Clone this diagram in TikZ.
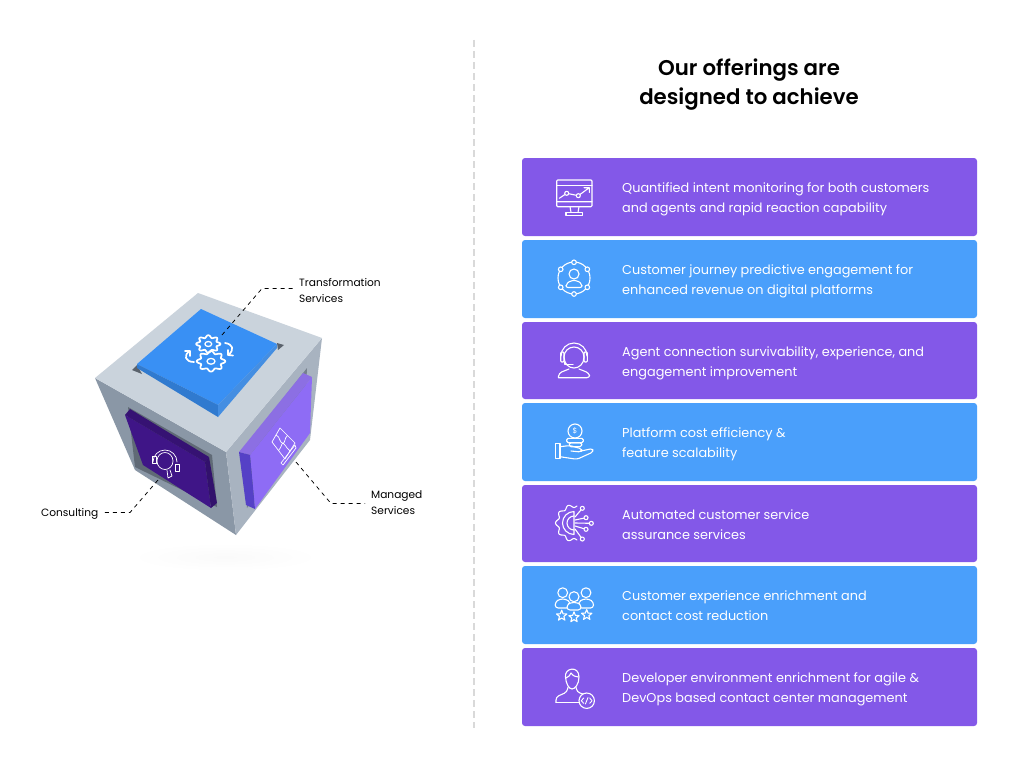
\documentclass[tikz,border=0pt]{standalone}
\usepackage{fontspec}
\setmainfont{Poppins}
\newfontfamily\titlefont{Poppins SemiBold}
\definecolor{cardpurple}{HTML}{8358E8}
\definecolor{cardblue}{HTML}{4A9FFB}
\definecolor{platedark}{HTML}{3F1587}
\definecolor{plateblue}{HTML}{3990F4}
\definecolor{plateviolet}{HTML}{8E6CF5}
\tikzset{
    card/.style={minimum width=455pt,inner sep=0pt,rounded corners=3pt},
    purplecard/.style={card,fill=cardpurple},
    bluecard/.style={card,fill=cardblue},
    cardtext/.style={anchor=west,align=left,text=white,inner sep=0pt,font=\fontsize{12.85}{20}\selectfont},
    sidelabel/.style={anchor=west,align=left,text=black,inner sep=0pt,font=\fontsize{10.6}{16}\selectfont},
    leader/.style={draw=black,line width=.75pt,dash pattern=on 4pt off 4pt},
    iconline/.style={draw=white,line width=1.1pt,line join=round,line cap=round},
    monitoricon/.pic={
        \draw[iconline,rounded corners=1pt] (-17.3,-17) rectangle (18,9.7);
        \draw[iconline] (-17.3,4.7) -- (18,4.7) (-3,15.3) -- (-4,9.7) (4,15.3) -- (5,9.7);
        \draw[iconline] (-17.3,-11.3) -- (18,-11.3);
        \draw[iconline] (-8,15.3) rectangle (8.7,18.3);
        \draw[iconline] (-14.7,1.3) -- (-7.3,-3.7) -- (4.3,-1.3) -- (15.3,-9.3) (10,-9.3) -- (15.3,-9.3) -- (15.3,-4.5);
        \draw[iconline,fill=cardpurple] (-7.3,-3.7) circle (2);
        \draw[iconline,fill=cardpurple] (4.3,-1.3) circle (2);
    },
    networkicon/.pic={
        \draw[iconline] (0,0) circle (16);
        \foreach \px/\py in {0/-15.7,-13.3/-8.7,13.3/-8.7,-13.3/9.3,13.3/9.3,0/16}
            \draw[iconline,fill=cardblue] (\px,\py) circle (2.3);
        \draw[iconline] (0,-4) circle (5);
        \draw[iconline,rounded corners=2pt] (-8,9.5) -- (-8,6) -- (-3,2.5) -- (3,2.5) -- (8,6) -- (8,9.5) -- cycle;
    },
    headseticon/.pic={
        \draw[iconline] (-13,-4) arc (180:360:13);
        \draw[iconline] (-10,-3) arc (180:360:10);
        \draw[iconline] (-10,-3) .. controls (-10,4) and (-5,8) .. (0,8) .. controls (5,8) and (10,4) .. (10,-3);
        \draw[iconline,rounded corners=1pt] (-13.3,-8) rectangle (-10,2);
        \draw[iconline,rounded corners=1pt] (10,-8) rectangle (13.3,2);
        \draw[iconline] (-9,2) -- (-9,4.3) -- (-1,4.3);
        \draw[iconline,rounded corners=3pt] (-15.7,17.7) -- (-15,13) -- (-5,9) (5,9) -- (15,13) -- (16,17.7) -- (-15.7,17.7);
    },
    handicon/.pic={
        \draw[iconline] (1,-10) circle (7);
        \node[text=white,inner sep=0pt,font=\fontsize{7.5}{7.5}\selectfont] (dollar) at (1,-10) {\$};
        \draw[iconline,rounded corners=1.5pt] (-7.3,-2.7) rectangle (9.3,1.7);
        \draw[iconline,rounded corners=1.5pt] (-4.7,1.7) rectangle (7.7,5.7);
        \draw[iconline] (-18.3,2.3) rectangle (-14,17.3);
        \draw[iconline,rounded corners=2.5pt] (-14,5.7) -- (-4,4.5) -- (8,8) -- (7,11) -- (-3,10);
        \draw[iconline,rounded corners=2.5pt] (7,10) -- (18.7,7.5) -- (19,11) -- (3,18.3) -- (-14,15.7);
    },
    gearhandicon/.pic={
        \draw[iconline] plot[domain=80:280,samples=90] ({(17+1.5*cos(10*\x))*cos(\x)},{(17+1.5*cos(10*\x))*sin(\x)});
        \draw[iconline] (0,-11.5) -- (0,11.5) (0,-11.5) arc (270:90:11.5);
        \draw[iconline] (0,-7) arc (270:90:7);
        \foreach \px/\py/\sx/\sy in {8.3/-14.7/1/-6,12/-5.3/1/-3,17.3/.3/1/0,12/6.3/1/3,8.3/16/1/6}{
            \draw[iconline] (\sx,\sy) -- (\px,\py);
            \draw[iconline,fill=cardpurple] (\px,\py) circle (2);
        }
    },
    teamicon/.pic={
        \foreach \hx in {-11.3,12}{
            \draw[iconline] (\hx,-11.3) circle (4.9);
            \draw[iconline,rounded corners=3pt] (\hx-7.5,4) -- (\hx-7.5,-2) -- (\hx-3,-5) -- (\hx+3,-5) -- (\hx+7.5,-2) -- (\hx+7.5,4) -- cycle;
        }
        \draw[iconline,fill=cardblue] (0,-7.3) circle (5);
        \draw[iconline,fill=cardblue,rounded corners=3pt] (-7,6) -- (-7,.5) -- (-3,-1.5) -- (3,-1.5) -- (7,.5) -- (7,6) -- cycle;
        \foreach \sx/\sy in {-12.3/11.7,0/13.3,12.7/11}
            \draw[iconline,shift={(\sx,\sy)}] (0,-5.5) -- (1.4,-1.9) -- (5.2,-1.7) -- (2.2,.7) -- (3.2,4.4) -- (0,2.3) -- (-3.2,4.4) -- (-2.2,.7) -- (-5.2,-1.7) -- (-1.4,-1.9) -- cycle;
    },
    developericon/.pic={
        \draw[iconline] (-8.5,-10) .. controls (-10,-19) and (5,-22) .. (5,-10) .. controls (5,-3) and (1,2) .. (-2,2) .. controls (-5,2) and (-8,-3) .. (-8.5,-10);
        \draw[iconline] (-8,-9) .. controls (-5,-10) and (-4,-12) .. (-3,-14) .. controls (-1,-11) and (2,-10) .. (4.5,-10);
        \draw[iconline,rounded corners=3pt] (-18,15.3) -- (-18,10) -- (-7,5) -- (-6,0) (2,0) -- (3,5) -- (9,7);
        \draw[iconline] (-18,15.3) -- (6,15.3);
        \draw[iconline,fill=cardpurple] (12.7,13.7) circle (7.7);
        \draw[iconline,line width=.9pt] (9.7,11) -- (7.3,13.7) -- (9.7,16.4) (15.7,11) -- (18.1,13.7) -- (15.7,16.4) (14,10.5) -- (11.4,17);
    },
}
\begin{document}
\begin{tikzpicture}[x=1pt,y=-1pt]
    \useasboundingbox (0,0) rectangle (1024,768);
    % divider
    \draw[black!15,line width=1.2pt,dash pattern=on 7pt off 4pt] (474,40) -- (474,728);
    % title
    \node[align=center,inner sep=0pt,font=\titlefont\fontsize{21.3}{29}\selectfont] (title) at (749,84.5) {Our offerings are\\designed to achieve};
    % cards
    \node[purplecard,minimum height=78pt] (monitorcard) at (749.5,197) {};
    \node[bluecard,minimum height=78pt] (journeycard) at (749.5,279) {};
    \node[purplecard,minimum height=77pt] (agentcard) at (749.5,360.5) {};
    \node[bluecard,minimum height=78pt] (costcard) at (749.5,442) {};
    \node[purplecard,minimum height=77pt] (assurancecard) at (749.5,523.5) {};
    \node[bluecard,minimum height=78pt] (enrichcard) at (749.5,605) {};
    \node[purplecard,minimum height=78pt] (devcard) at (749.5,687) {};
    \node[cardtext] (monitortext) at (622,199) {Quantified intent monitoring for both customers\\and agents and rapid reaction capability};
    \node[cardtext] (journeytext) at (622,281) {Customer journey predictive engagement for\\enhanced revenue on digital platforms};
    \node[cardtext] (agenttext) at (622,363) {Agent connection survivability, experience, and\\engagement improvement};
    \node[cardtext] (costtext) at (622,444) {Platform cost efficiency \&\\feature scalability};
    \node[cardtext] (assurancetext) at (622,524.5) {Automated customer service\\assurance services};
    \node[cardtext] (enrichtext) at (622,605.5) {Customer experience enrichment and\\contact cost reduction};
    \node[cardtext] (devtext) at (622,689) {Developer environment enrichment for agile \&\\DevOps based contact center management};
    % icons
    \pic at (574,197) {monitoricon};
    \pic at (574,278) {networkicon};
    \pic at (574,360) {headseticon};
    \pic at (574,441) {handicon};
    \pic at (574,523) {gearhandicon};
    \pic at (574,604) {teamicon};
    \pic at (574,687) {developericon};
    % shadow below the cube
    \shade[inner color=black!2,outer color=white] (225,557) ellipse (95 and 14);
    % cube faces
    \fill[fill={rgb,255:red,138;green,151;blue,166}] (95,378) -- (226,452) -- (236,535) -- (135,470) -- cycle;
    \fill[fill={rgb,255:red,168;green,179;blue,192}] (322,338) -- (226,452) -- (236,535) -- (310,440) -- cycle;
    \fill[fill={rgb,255:red,202;green,211;blue,220}] (198,293) -- (322,338) -- (226,452) -- (95,378) -- cycle;
    % windows
    \fill[fill={rgb,255:red,96;green,106;blue,118}] (128,407) -- (212,455) -- (217,507) -- (135,467) -- cycle;
    \fill[fill={rgb,255:red,118;green,128;blue,140}] (245,447) -- (307,368) -- (304,430) -- (247,508) -- cycle;
    \fill[fill={rgb,255:red,90;green,98;blue,108}] (132,370) -- (137,365) -- (142,374) -- cycle;
    \fill[fill={rgb,255:red,90;green,98;blue,108}] (277,343) -- (284,345) -- (278,350) -- cycle;
    % blue plate
    \fill[plateblue] (201,309) -- (277,344) -- (218,405) -- (137,364) -- cycle;
    \fill[plateblue!85!black] (137,364) -- (218,405) -- (218,417) -- (137,368) -- cycle;
    \fill[plateblue!85!gray] (218,405) -- (277,344) -- (277,348) -- (218,417) -- cycle;
    % dark plate
    \fill[platedark] (125,415) -- (205,462) -- (211,508) -- (143,465) -- cycle;
    \fill[platedark!85!black] (130,409) -- (209,457) -- (205,462) -- (125,415) -- cycle;
    \fill[platedark!80!black] (209,457) -- (217,503) -- (211,508) -- (205,462) -- cycle;
    % violet plate
    \fill[plateviolet] (250,455) -- (312,377) -- (310,433) -- (255,509) -- cycle;
    \fill[plateviolet!85!gray] (239,452) -- (303,373) -- (312,377) -- (250,455) -- cycle;
    \fill[plateviolet!75!blue!80!black] (239,452) -- (250,455) -- (255,509) -- (246,505) -- cycle;
    % gears on the blue plate
    \draw[iconline,line width=1.7pt] plot[domain=0:360,samples=97] ({208.3+(10.5+1.7*cos(8*\x))*cos(\x)},{344+.72*(10.5+1.7*cos(8*\x))*sin(\x)});
    \draw[iconline,line width=1.3pt] (208.3,344) ellipse (3.4 and 2.5);
    \draw[iconline,line width=1.7pt] plot[domain=0:360,samples=97] ({211+(12.5+1.8*cos(8*\x))*cos(\x)},{361.3+.72*(12.5+1.8*cos(8*\x))*sin(\x)});
    \draw[iconline,line width=1.3pt] (211,361.3) ellipse (4 and 2.9);
    \draw[iconline,line width=1.7pt] (225,343) .. controls (233,344) and (235,350) .. (228,355) (228,350) -- (228,355) -- (233,355.5);
    \draw[iconline,line width=1.7pt] (194,362) .. controls (185,362) and (183,355) .. (190,351) (190,356) -- (190,351) -- (185,351);
    % headset on the dark plate
    \draw[iconline,line width=.7pt] (165,461) ellipse (8 and 8.5);
    \draw[iconline,line width=.7pt] (153,462) arc (180:360:12);
    \draw[iconline,line width=.7pt] (152,456) rectangle (156,463);
    \draw[iconline,line width=.7pt] (175,464) rectangle (179,471);
    \draw[iconline,line width=.7pt] (167,470) -- (168,478) -- (172,476) -- (170,470);
    % puzzle on the violet plate
    \draw[iconline,line width=.7pt] (272,442) -- (280,428) -- (295,443) -- (285,459) -- cycle;
    \draw[iconline,line width=.7pt] (276,435) .. controls (281,437) and (278,442) .. (284,444) .. controls (287,447) and (287,449) .. (290,451) (287.5,435.5) .. controls (284,438) and (286,443) .. (282,444) .. controls (280,447) and (281,449) .. (278.5,450.5);
    \draw[iconline,line width=.7pt] (281,463) -- (295,445) -- (296,448) -- (283,465) -- cycle;
    % labels
    \node[sidelabel] (transformation) at (299,290) {Transformation\\Services};
    \node[sidelabel] (managed) at (371,503) {Managed\\Services};
    \node[sidelabel] (consulting) at (41,514) {Consulting};
    % leaders
    \coordinate (gears) at (222,335);
    \coordinate (headset) at (158,480);
    \coordinate (puzzle) at (296,462);
    \draw[leader] (gears) -- (262,288.5) -- (293,288.5);
    \draw[leader] (headset) -- (130,512.5) -- (104,512.5);
    \draw[leader] (puzzle) -- (331,503.5) -- (365,503.5);
\end{tikzpicture}
\end{document}
